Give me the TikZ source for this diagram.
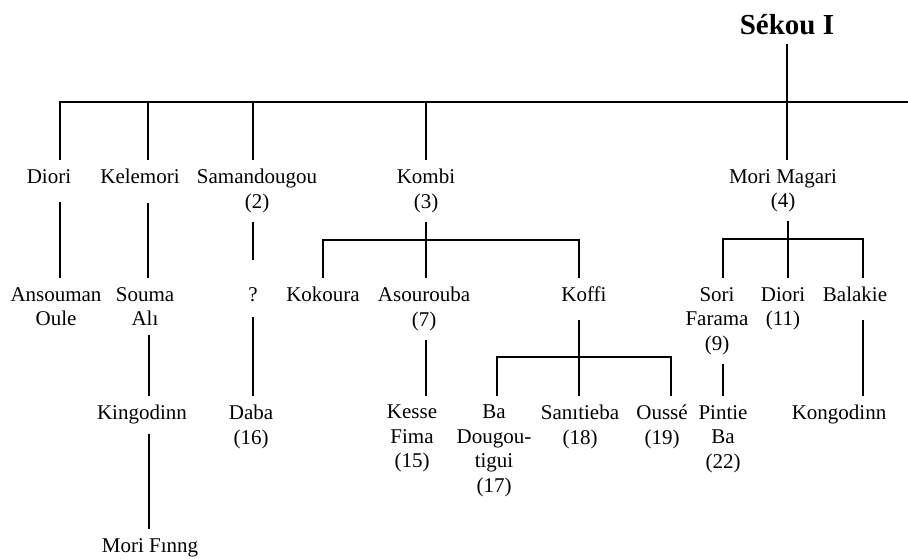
\documentclass[tikz,border=0pt]{standalone}
\usepackage{fontspec}
\setmainfont{Liberation Serif}
\usepackage{tikz}
\usetikzlibrary{calc}
\tikzstyle{person} = [anchor=north,
inner xsep=2pt,
inner ysep=9pt,
align=center,
font=\fontsize{21}{24.5}\selectfont]
\tikzstyle{founder} = [inner xsep=0pt, inner ysep=8pt, font=\bfseries\fontsize{29}{34}\selectfont]
\tikzstyle{kin} = [line width=1.5pt]

\begin{document}
\begin{tikzpicture}[x=1pt, y=-1pt]
    \useasboundingbox (0,0) rectangle (908,559);

    \node (sekou) [founder, anchor=base] at (787,35) {Sékou I};

    % Sons
    \node (diori) [person, text depth=10pt] at (49,160) {Diori};
    \node (kelemori) [person, text depth=10pt] at (140,160) {Kelemori};
    \node (samandougou) [person] at (257,160) {Samandougou\\(2)};
    \node (kombi) [person] at (426,160) {Kombi\\(3)};
    \node (magari) [person] at (783,160) {Mori Magari\\(4)};

    % Grandsons
    \node (ansouman) [person] at (56,278) {Ansouman\\Oule};
    \node (souma) [person] at (145,278) {Souma\\Alı};
    \node (qmark) [person, text depth=7pt] at (253,278) {?};
    \node (kokoura) [person] at (323,278) {Kokoura};
    \node (asourouba) [person] at (424,278) {Asourouba\\(7)};
    \node (koffi) [person, text depth=9pt] at (584,278) {Koffi};
    \node (sori) [person] at (717,278) {Sori\\Farama\\(9)};
    \node (diorib) [person] at (783,278) {Diori\\(11)};
    \node (balakie) [person, text depth=9pt] at (855,278) {Balakie};

    % Third generation
    \node (kingodinn) [person] at (142,396) {Kingodinn};
    \node (daba) [person] at (251,396) {Daba\\(16)};
    \node (kesse) [person] at (412,396) {Kesse\\Fima\\(15)};
    \node (badougou) [person] at (494,396) {Ba\\Dougou-\\tigui\\(17)};
    \node (sanitieba) [person] at (580,396) {Sanıtieba\\(18)};
    \node (ousse) [person] at (662,396) {Oussé\\(19)};
    \node (pintie) [person] at (723,396) {Pintie\\Ba\\(22)};
    \node (kongodinn) [person] at (839,396) {Kongodinn};

    \node (morifinng) [person] at (150,529) {Mori Fınng};

    % Sékou I and his sons
    \coordinate (topbar) at (908,102);
    \draw [kin] (sekou.south) -- (sekou.south |- magari.north);
    \draw [kin] ([xshift=11pt]diori.north) |- (topbar);
    \draw [kin] ([xshift=8pt]kelemori.north) -- ([xshift=8pt]kelemori.north |- topbar);
    \draw [kin] ([xshift=-4pt]samandougou.north) -- ([xshift=-4pt]samandougou.north |- topbar);
    \draw [kin] (kombi.north) -- (kombi.north |- topbar);

    % Diori and Kelemori lines
    \draw [kin] ([xshift=11pt]diori.south) -- ([xshift=11pt]diori.south |- ansouman.north);
    \draw [kin] ([xshift=8pt]kelemori.south) -- ([xshift=8pt]kelemori.south |- souma.north);
    \draw [kin] ([xshift=4pt]souma.south) -- ([xshift=4pt]souma.south |- kingodinn.north);
    \draw [kin] ([xshift=7pt]kingodinn.south) -- ([xshift=7pt]kingodinn.south |- morifinng.north);

    % Samandougou line
    \draw [kin, shorten >=18pt] ([xshift=-4pt]samandougou.south) -- ([xshift=-4pt]samandougou.south |- qmark.north);
    \draw [kin] (qmark.south) -- (qmark.south |- daba.north);

    % Kombi and his sons
    \coordinate (kombibar) at (426,240);
    \draw [kin] (kombi.south) -- (kombibar);
    \draw [kin] (kokoura.north) |- (kombibar) -| ([xshift=-5pt]koffi.north);
    \draw [kin] (kombibar) -- (kombibar |- asourouba.north);
    \draw [kin] ([xshift=2pt]asourouba.south) -- ([xshift=2pt]asourouba.south |- kesse.north);

    % Koffi and his sons
    \coordinate (koffibar) at (579,357);
    \draw [kin] ([xshift=-5pt]koffi.south) -- (koffibar);
    \draw [kin] ([xshift=3pt]badougou.north) |- (koffibar) -| ([xshift=9pt]ousse.north);
    \draw [kin] (koffibar) -- (koffibar |- sanitieba.north);

    % Mori Magari and his sons
    \coordinate (magaribar) at (788,239);
    \draw [kin] ([xshift=5pt]magari.south) -- (magaribar);
    \draw [kin] ([xshift=6pt]sori.north) |- (magaribar) -| ([xshift=8pt]balakie.north);
    \draw [kin] (magaribar) -- (magaribar |- diorib.north);
    \draw [kin] ([xshift=6pt]sori.south) -- ([xshift=6pt]sori.south |- pintie.north);
    \draw [kin] ([xshift=8pt]balakie.south) -- ([xshift=8pt]balakie.south |- kongodinn.north);
\end{tikzpicture}
\end{document}
